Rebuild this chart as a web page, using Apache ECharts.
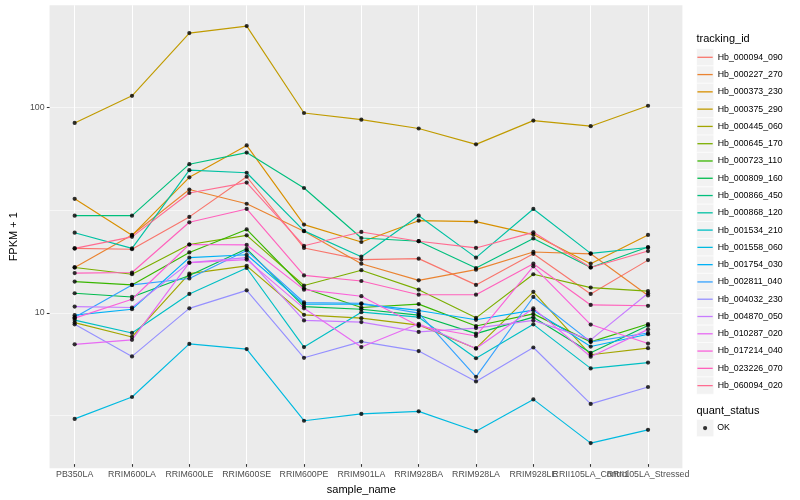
<!DOCTYPE html>
<html><head><meta charset="utf-8">
<script src="https://cdn.jsdelivr.net/npm/echarts@6/dist/echarts.min.js"></script>
<style>html,body{margin:0;padding:0;background:#fff}#c{width:800px;height:500px}</style>
</head><body><div id="c"></div>
<script>
const categories = ['PB350LA','RRIM600LA','RRIM600LE','RRIM600SE','RRIM600PE','RRIM901LA','RRIM928BA','RRIM928LA','RRIM928LE','RRII105LA_Control','RRII105LA_Stressed'];

const seriesNames = ['Hb_000094_090','Hb_000227_270','Hb_000373_230','Hb_000375_290','Hb_000445_060','Hb_000645_170','Hb_000723_110','Hb_000809_160','Hb_000866_450','Hb_000868_120','Hb_001534_210','Hb_001558_060','Hb_001754_030','Hb_002811_040','Hb_004032_230','Hb_004870_050','Hb_010287_020','Hb_017214_040','Hb_023226_070','Hb_060094_020'];
const seriesColors = ['#F8766D','#EA8331','#D89000','#C09B00','#A3A500','#7CAE00','#39B600','#00BB4E','#00BF7D','#00C1A3','#00BFC4','#00BAE0','#00B0F6','#35A2FF','#9590FF','#C77CFF','#E76BF3','#FA62DB','#FF62BC','#FF6C91'];

// FPKM + 1 values per sample (order of categories)
const hb_000094_090 = [20.1, 19.9, 28.7, 45.2, 20.2, 17.7, 17.9, 13.3, 18.9, 12.0, 17.6];
const hb_000227_270 = [16.2, 23.4, 39.1, 33.3, 24.4, 16.9, 14.0, 15.8, 19.3, 18.9, 11.8];
const hb_000373_230 = [35.2, 23.3, 44.9, 64.4, 26.3, 21.6, 27.5, 27.2, 23.5, 16.9, 23.4];
const hb_000375_290 = [83.1, 112.9, 229.7, 248.5, 93.0, 86.2, 78.0, 65.2, 85.3, 80.1, 100.9];
const hb_000445_060 = [8.68, 7.38, 15.1, 16.5, 9.48, 9.13, 8.44, 6.48, 12.3, 6.03, 6.50];
const hb_000645_170 = [16.2, 15.0, 21.0, 23.3, 13.2, 15.7, 12.6, 9.16, 15.0, 12.9, 12.4];
const hb_000723_110 = [13.8, 13.3, 19.2, 24.9, 12.8, 10.3, 10.7, 8.35, 9.58, 6.98, 8.54];
const hb_000809_160 = [12.1, 11.6, 14.8, 20.0, 10.4, 10.1, 9.44, 7.66, 9.23, 6.17, 8.41];
const hb_000866_450 = [29.1, 29.1, 52.1, 59.4, 39.8, 22.6, 21.8, 16.1, 22.5, 16.2, 20.4];
const hb_000868_120 = [24.0, 20.1, 48.7, 47.3, 24.5, 18.3, 29.1, 18.1, 31.4, 19.0, 20.3];
const hb_001534_210 = [8.93, 7.72, 12.0, 16.1, 6.58, 9.77, 9.23, 5.80, 8.51, 5.17, 5.52];
const hb_001558_060 = [2.92, 3.74, 6.82, 6.43, 2.86, 3.09, 3.18, 2.54, 3.64, 2.22, 2.58];
const hb_001754_030 = [9.44, 10.1, 18.1, 18.7, 10.7, 10.7, 9.96, 8.96, 9.99, 6.62, 7.61];
const hb_002811_040 = [9.23, 13.3, 14.3, 19.6, 10.9, 10.8, 9.66, 4.70, 11.6, 6.98, 7.72];
const hb_004032_230 = [8.51, 5.92, 10.2, 12.5, 5.83, 7.00, 6.29, 4.46, 6.55, 3.46, 4.19];
const hb_004870_050 = [10.4, 10.3, 17.1, 18.1, 8.90, 8.73, 7.81, 8.16, 8.90, 7.14, 12.1];
const hb_010287_020 = [6.79, 7.14, 17.1, 17.7, 10.2, 6.58, 8.57, 6.48, 10.2, 5.90, 8.04];
const hb_017214_040 = [9.13, 11.3, 21.0, 20.9, 12.6, 11.7, 8.35, 7.46, 16.4, 8.49, 6.85];
const hb_023226_070 = [15.2, 15.3, 27.0, 31.4, 14.8, 13.9, 11.9, 11.9, 16.9, 10.6, 10.5];
const hb_060094_020 = [20.1, 22.9, 37.6, 42.3, 20.7, 24.2, 21.8, 20.2, 24.1, 16.2, 19.5];

const seriesValues = [hb_000094_090, hb_000227_270, hb_000373_230, hb_000375_290, hb_000445_060, hb_000645_170, hb_000723_110, hb_000809_160, hb_000866_450, hb_000868_120, hb_001534_210, hb_001558_060, hb_001754_030, hb_002811_040, hb_004032_230, hb_004870_050, hb_010287_020, hb_017214_040, hb_023226_070, hb_060094_020];

const yTicks = [10, 100];
const yMin = 1.751, yMax = 314.8;
const statusName = 'OK';

const FONT = '"Liberation Sans", Arial, Helvetica, sans-serif';
const chart = echarts.init(document.getElementById('c'), null, {renderer: 'canvas'});

const lineSeries = seriesNames.map((n, i) => ({
  type: 'line', name: n, data: seriesValues[i], xAxisIndex: 1, yAxisIndex: 2,
  symbol: 'none', showSymbol: false, z: 2,
  lineStyle: {width: 1.15, color: seriesColors[i]}, itemStyle: {color: seriesColors[i]},
  emphasis: {disabled: true}
}));
const points = [];
seriesValues.forEach(arr => arr.forEach((v, j) => points.push([j, v])));

const keyX = 696.5, keyTop = 48.66, keyH = 17.28;
const graphics = [];
seriesNames.forEach((n, i) => graphics.push({type: 'rect', silent: true, shape: {x: keyX, y: keyTop + i * keyH, width: keyH, height: keyH}, style: {fill: '#F2F2F2', stroke: '#FFFFFF', lineWidth: 0.6}}));
graphics.push({type: 'rect', silent: true, shape: {x: keyX, y: 419.4, width: keyH, height: keyH}, style: {fill: '#F2F2F2', stroke: '#FFFFFF', lineWidth: 0.6}});
graphics.push({type: 'text', silent: true, x: keyX, y: 39, style: {text: 'tracking_id', fill: '#000', font: '11px ' + FONT, textVerticalAlign: 'middle', verticalAlign: 'middle'}});
graphics.push({type: 'text', silent: true, x: keyX, y: 410.5, style: {text: 'quant_status', fill: '#000', font: '11px ' + FONT, textVerticalAlign: 'middle', verticalAlign: 'middle'}});

const option = {
  animation: false,
  textStyle: {fontFamily: FONT},
  grid: [
    {left: 40.3, right: 117.6, top: 5.2, bottom: 31.7, show: true, backgroundColor: '#EBEBEB', borderWidth: 0, borderColor: 'transparent'},
    {left: 46.0, right: 123.3, top: 5.2, bottom: 31.7, show: false}
  ],
  xAxis: [
    {gridIndex: 0, type: 'value', min: 0, max: 1, show: false},
    {gridIndex: 1, type: 'category', data: categories, boundaryGap: true,
     axisLine: {show: false},
     axisTick: {show: true, alignWithLabel: true, interval: 0, length: 2.75, lineStyle: {color: '#333333', width: 1.07}},
     axisLabel: {interval: 0, color: '#4D4D4D', fontSize: 8.8, margin: 6, fontFamily: FONT},
     splitLine: {show: true, alignWithLabel: true, interval: 0, lineStyle: {color: '#FFFFFF', width: 1.07}},
     name: 'sample_name', nameLocation: 'middle', nameGap: 13,
     nameTextStyle: {color: '#000', fontSize: 11, fontFamily: FONT}}
  ],
  yAxis: [
    {gridIndex: 0, type: 'log', logBase: 10, min: yMin, max: yMax,
     axisLine: {show: false},
     axisTick: {show: true, length: 2.75, customValues: yTicks, lineStyle: {color: '#333333', width: 1.07}},
     axisLabel: {customValues: yTicks, formatter: v => String(Math.round(v)), color: '#4D4D4D', fontSize: 8.8, margin: 5, fontFamily: FONT},
     splitLine: {show: true, showMinLine: false, showMaxLine: false, lineStyle: {color: '#FFFFFF', width: 1.07}},
     name: 'FPKM + 1', nameLocation: 'middle', nameRotate: 90, nameGap: 22,
     nameTextStyle: {color: '#000', fontSize: 11, fontFamily: FONT}},
    {gridIndex: 0, type: 'log', logBase: Math.sqrt(10), min: yMin, max: yMax,
     axisLine: {show: false}, axisTick: {show: false}, axisLabel: {show: false},
     splitLine: {show: true, showMinLine: false, showMaxLine: false, lineStyle: {color: '#FFFFFF', width: 0.55}}},
    {gridIndex: 1, type: 'log', logBase: 10, min: yMin, max: yMax, show: false}
  ],
  legend: [
    {data: seriesNames, orient: 'vertical', left: 697.4, top: keyTop, padding: 0, itemGap: 0,
     itemWidth: 15.3, itemHeight: 1.3, icon: 'rect', selectedMode: false,
     textStyle: {fontSize: 8.8, color: '#000', lineHeight: keyH, fontFamily: FONT}},
    {data: [statusName], orient: 'vertical', left: 703.0, top: 419.4, padding: 0, itemGap: 0,
     itemWidth: 4.2, itemHeight: 4.2, icon: 'circle', selectedMode: false,
     textStyle: {fontSize: 8.8, color: '#000', lineHeight: keyH, padding: [0, 0, 0, 5], fontFamily: FONT}}
  ],
  graphic: graphics,
  series: lineSeries.concat([{
    type: 'scatter', name: statusName, data: points, xAxisIndex: 1, yAxisIndex: 2,
    symbol: 'circle', symbolSize: 4.2, z: 3, itemStyle: {color: '#000000'}, emphasis: {disabled: true}
  }])
};
chart.setOption(option);
</script></body></html>
